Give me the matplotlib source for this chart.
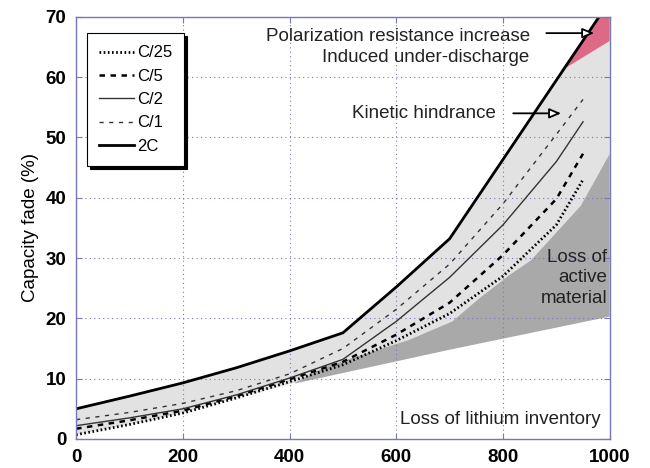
import matplotlib
matplotlib.use("Agg")
import matplotlib.pyplot as plt

plt.rcParams['font.family'] = ['Liberation Sans', 'DejaVu Sans']

# cycles
x_main = [0, 100, 200, 300, 400, 500, 600, 700, 800, 900, 950]

# capacity fade (%) per rate
fade_c25 = [0.7, 2.4, 4.3, 6.8, 9.5, 12.3, 16.3, 20.8, 27.0, 35.5, 43.0]
fade_c5 = [1.7, 3.1, 4.7, 7.1, 9.9, 12.8, 17.3, 22.6, 30.5, 39.8, 47.3]
fade_c2 = [2.2, 3.5, 5.0, 7.3, 10.1, 13.2, 19.5, 26.8, 35.5, 46.0, 52.6]
fade_c1 = [3.2, 4.4, 5.9, 8.0, 10.8, 15.0, 21.5, 29.0, 39.0, 50.5, 56.3]

x_2c = [0, 100, 200, 300, 400, 500, 600, 700, 980]
fade_2c = [5.0, 7.1, 9.3, 11.8, 14.6, 17.6, 25.2, 33.2, 70.0]

# shaded regions
light_top_x = [0, 100, 200, 300, 400, 500, 600, 700, 908, 1000]
light_top_y = [5.0, 7.1, 9.3, 11.8, 14.6, 17.6, 25.2, 33.2, 61.0, 66.0]
light_bot_x = [0, 100, 200, 300, 410, 467, 623, 705, 758, 817, 852, 946, 1000]
light_bot_y = [0.7, 2.4, 4.3, 6.8, 9.3, 12.0, 16.4, 19.5, 23.5, 27.5, 29.6, 38.7, 47.3]

active_top_x = [410, 467, 623, 705, 758, 817, 852, 946, 1000]
active_top_y = [9.3, 12.0, 16.4, 19.5, 23.5, 27.5, 29.6, 38.7, 47.3]
active_bot_x = [410, 700, 1000]
active_bot_y = [9.2, 14.8, 20.3]

pol_x = [908, 979, 1000, 1000]
pol_y = [61.0, 70.0, 70.0, 66.0]

fig = plt.figure(figsize=(6.5, 4.68), dpi=100)
ax = fig.add_axes([0.117, 0.062, 0.821, 0.902])

blue = '#7878b8'

ax.fill(light_top_x + light_bot_x[::-1], light_top_y + light_bot_y[::-1],
        color='#e2e2e2', lw=0, zorder=0.5)
ax.fill(active_top_x + active_bot_x[::-1], active_top_y + active_bot_y[::-1],
        color='#a9a9a9', lw=0, zorder=0.6)
ax.fill(pol_x, pol_y, color='#dc6a86', lw=0, zorder=0.7)

ax.plot(x_main, fade_c25, color='black', lw=2.0, ls=(0, (0.6, 0.9)), label='C/25', zorder=3)
ax.plot(x_main, fade_c5, color='black', lw=1.8, ls=(0, (2.2, 2.2)), label='C/5', zorder=3)
ax.plot(x_main, fade_c2, color='#333333', lw=1.0, ls='-', label='C/2', zorder=3)
ax.plot(x_main, fade_c1, color='#333333', lw=1.0, ls=(0, (3, 4)), label='C/1', zorder=3)
ax.plot(x_2c, fade_2c, color='black', lw=2.0, ls='-', label='2C', zorder=3)

ax.set_xlim(0, 1000)
ax.set_ylim(0, 70)
ax.set_xticks(range(0, 1001, 200))
ax.set_yticks(range(0, 71, 10))
ax.grid(True, color=blue, ls=(0, (1, 3)), lw=0.8)
ax.set_axisbelow(False)
for sp in ax.spines.values():
    sp.set_color(blue)
    sp.set_linewidth(1.0)
    sp.set_zorder(4)
ax.tick_params(direction='in', length=4, color=blue, top=True, right=True,
               labelsize=13.5, pad=7)
for lab in ax.get_xticklabels() + ax.get_yticklabels():
    lab.set_fontweight('bold')

ax.set_ylabel('Capacity fade (%)', fontsize=13.5, labelpad=5)

leg = ax.legend(loc='upper left', bbox_to_anchor=(0.02, 0.962), fontsize=12,
                frameon=True, fancybox=False, edgecolor='black', framealpha=1,
                shadow={'color': 'black', 'alpha': 1}, handlelength=2.1,
                handletextpad=0.15, labelspacing=0.5, borderpad=0.75,
                borderaxespad=0.0)
leg.get_frame().set_linewidth(0.8)
leg.set_zorder(5)

txt = '#222222'
ax.text(850, 65.0, 'Polarization resistance increase\nInduced under-discharge',
        ha='right', va='center', fontsize=13.5, color=txt, linespacing=1.35, zorder=5)
ax.annotate('', xy=(976, 67.3), xytext=(876, 67.3),
            arrowprops=dict(arrowstyle='-|>,head_length=0.7,head_width=0.3',
                            color='black', lw=1.3, fc='white'), zorder=5)
ax.text(786, 54, 'Kinetic hindrance', ha='right', va='center', fontsize=13.5,
        color=txt, zorder=5)
ax.annotate('', xy=(914, 54), xytext=(814, 54),
            arrowprops=dict(arrowstyle='-|>,head_length=0.7,head_width=0.3',
                            color='black', lw=1.3, fc='white'), zorder=5)
ax.text(996, 26.7, 'Loss of\nactive\nmaterial', ha='right', va='center',
        fontsize=13.5, color=txt, linespacing=1.25, zorder=5)
ax.text(983, 3.3, 'Loss of lithium inventory', ha='right', va='center',
        fontsize=13.5, color=txt, zorder=5)

fig.savefig('out.png', dpi=100)
